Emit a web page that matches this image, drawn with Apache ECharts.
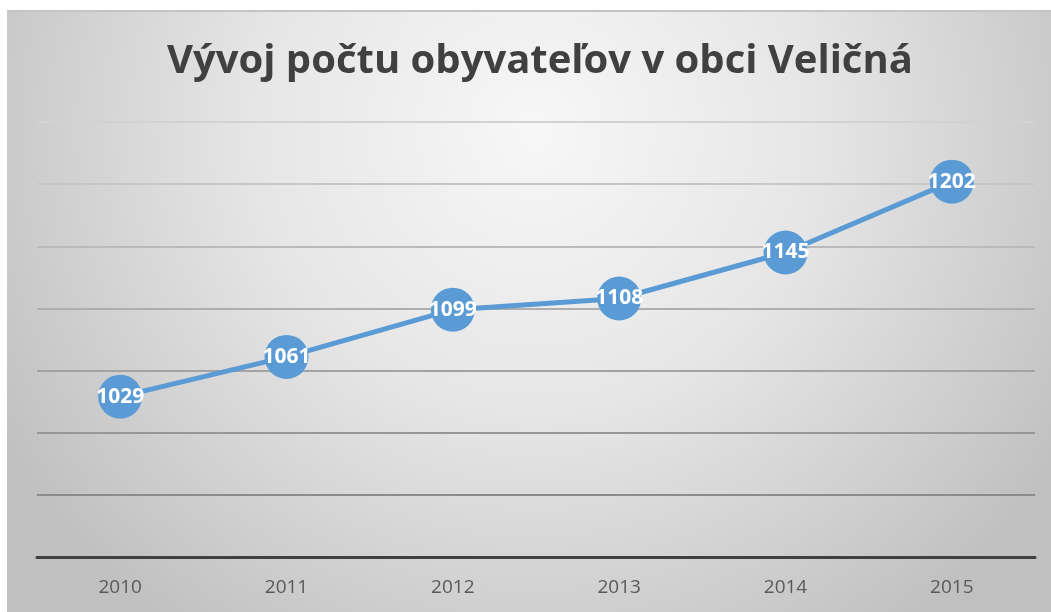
<!DOCTYPE html>
<html>
<head>
<meta charset="utf-8">
<script src="https://cdn.jsdelivr.net/npm/echarts@6/dist/echarts.min.js"></script>
<style>
  html, body { margin: 0; padding: 0; background: #fff; }
  #main { width: 1051px; height: 612px; }
</style>
</head>
<body>
<div id="main"></div>
<script>
var years = ['2010', '2011', '2012', '2013', '2014', '2015'];
var population = [1029, 1061, 1099, 1108, 1145, 1202];
var titleText = 'Vývoj počtu obyvateľov v obci Veličná';

var chart = echarts.init(document.getElementById('main'));

var option = {
  backgroundColor: '#fff',
  // pozadie grafu - radialny prechod
  graphic: [
    {
      type: 'rect',
      z: -10,
      silent: true,
      shape: { x: 7, y: 10, width: 1044, height: 602 },
      style: {
        fill: new echarts.graphic.RadialGradient(535, 130, 620, [
          { offset: 0, color: '#f7f7f7' },
          { offset: 0.45, color: '#e6e6e6' },
          { offset: 1, color: '#c0c0c0' }
        ], true)
      }
    },
    {
      type: 'rect',
      z: -9,
      silent: true,
      shape: { x: 7, y: 10, width: 1044, height: 2 },
      style: { fill: '#c4c4c4' }
    }
  ],
  title: {
    text: titleText,
    left: 162,
    top: 37,
    textStyle: {
      fontFamily: 'Open Sans',
      fontWeight: 'bold',
      fontSize: 40,
      color: '#404040'
    }
  },
  grid: {
    left: 37,
    right: 16,
    top: 122,
    bottom: 55
  },
  xAxis: {
    type: 'category',
    data: years,
    boundaryGap: true,
    axisTick: { show: false },
    axisLine: {
      lineStyle: { color: '#404040', width: 3 }
    },
    axisLabel: {
      color: '#595959',
      fontFamily: 'Open Sans',
      fontSize: 19,
      margin: 21
    }
  },
  yAxis: {
    type: 'value',
    min: 900,
    max: 1250,
    interval: 50,
    axisLabel: { show: false },
    axisLine: { show: false },
    axisTick: { show: false },
    splitLine: {
      lineStyle: {
        width: 2,
        color: new echarts.graphic.LinearGradient(0, 122, 0, 557, [
          { offset: 0, color: '#d2d2d2' },
          { offset: 1, color: '#7f7f7f' }
        ], true)
      }
    }
  },
  series: [
    {
      name: 'Obyvatelia',
      type: 'line',
      data: population,
      symbol: 'circle',
      symbolSize: 44,
      lineStyle: { color: '#5b9bd5', width: 5 },
      itemStyle: { color: '#5b9bd5' },
      label: {
        show: true,
        position: 'inside',
        color: '#fff',
        fontFamily: 'Open Sans',
        fontWeight: 'bold',
        fontSize: 21
      },
      animation: false
    }
  ],
  animation: false
};

chart.setOption(option);
</script>
</body>
</html>
